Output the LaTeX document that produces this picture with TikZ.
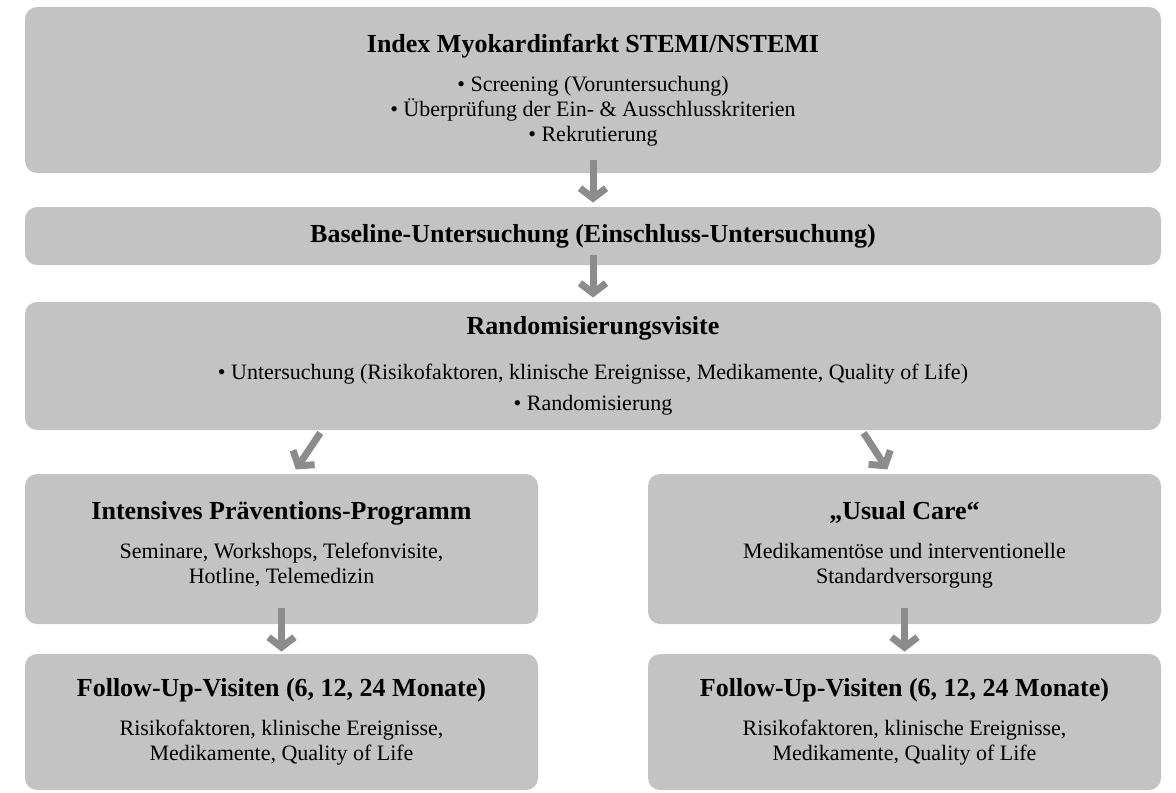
\documentclass[tikz,border=0pt]{standalone}
\usepackage{fontspec}
\setmainfont{Liberation Serif}
\usepackage{tikz}
\usetikzlibrary{arrows.meta}
\usetikzlibrary{calc}
\definecolor{boxgray}{RGB}{195,195,195}
\definecolor{arrowgray}{RGB}{140,140,140}
\newcommand{\hd}[1]{{\fontsize{13}{15}\selectfont\bfseries #1}}

\begin{document}
\begin{tikzpicture}[x=0.5pt, y=-0.5pt,
    box/.style={fill=boxgray, rounded corners=6pt, align=center, inner sep=0pt,
                font=\fontsize{11}{12.5}\selectfont},
    wide box/.style={box, minimum width=568pt},
    half box/.style={box, minimum width=256.5pt},
    flow/.style={draw=arrowgray, line width=3.5pt,
                 -{Straight Barb[length=5pt, width=13pt]}},
    ]
\useasboundingbox (0,0) rectangle (1176,792);

%% draw boxes
\node[wide box, minimum height=83pt] (index) at (593,90)
  {\hd{Index Myokardinfarkt STEMI/NSTEMI}\\[7pt]
   • Screening (Voruntersuchung)\\
   • Überprüfung der Ein- \& Ausschlusskriterien\\
   • Rekrutierung};
\node[wide box, minimum height=29pt] (base) at (593,236)
  {\hd{Baseline-Untersuchung (Einschluss-Untersuchung)}};
\node[wide box, minimum height=64pt] (rand) at (593,366)
  {\hd{Randomisierungsvisite}\\[10pt]
   • Untersuchung (Risikofaktoren, klinische Ereignisse, Medikamente, Quality of Life)\\[3pt]
   • Randomisierung};

\node[half box, minimum height=75pt] (ipp) at (281.5,549)
  {\hd{Intensives Präventions-Programm}\\[7pt]
   Seminare, Workshops, Telefonvisite,\\
   Hotline, Telemedizin\\[-5.5pt]};
\node[half box, minimum height=75pt] (care) at (904.5,549)
  {\hd{„Usual Care“}\\[7pt]
   Medikamentöse und interventionelle\\
   Standardversorgung\\[-5.5pt]};

\node[half box, minimum height=68pt] (fuleft) at (281.5,722)
  {\hd{Follow-Up-Visiten (6, 12, 24 Monate)}\\[7pt]
   Risikofaktoren, klinische Ereignisse,\\
   Medikamente, Quality of Life};
\node[half box, minimum height=68pt] (furight) at (904.5,722)
  {\hd{Follow-Up-Visiten (6, 12, 24 Monate)}\\[7pt]
   Risikofaktoren, klinische Ereignisse,\\
   Medikamente, Quality of Life};

%% draw arrows
\draw[flow, shorten <=-6.5pt, shorten >=2pt] (index.south) -- (base.north);
\draw[flow, shorten <=-5pt, shorten >=2pt]   (base.south) -- (rand.north);
\draw[flow, shorten <=1.5pt, shorten >=2.5pt]
  ([xshift=20.25pt]ipp.north |- rand.south) -- ([xshift=5.75pt]ipp.north);
\draw[flow, shorten <=1.5pt, shorten >=2.5pt]
  ([xshift=-21.25pt]care.north |- rand.south) -- ([xshift=-7.25pt]care.north);
\draw[flow, shorten <=-8pt, shorten >=1pt]   (ipp.south) -- (fuleft.north);
\draw[flow, shorten <=-8pt, shorten >=1pt]   (care.south) -- (furight.north);

\end{tikzpicture}
\end{document}
